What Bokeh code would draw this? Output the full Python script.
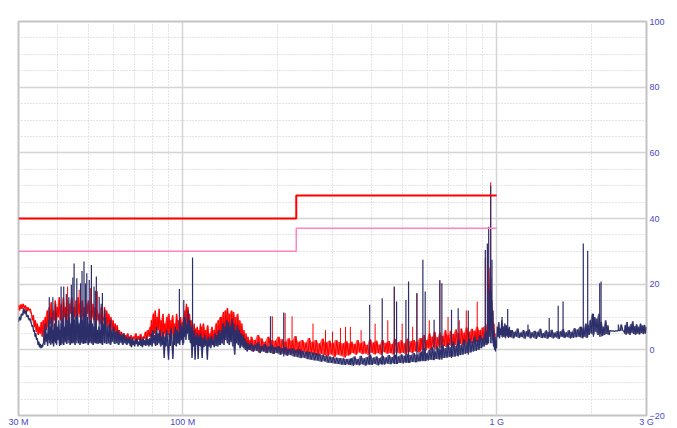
import numpy as np
from bokeh.plotting import figure
from bokeh.models import FixedTicker, Grid
from bokeh.embed import file_html
from bokeh.resources import INLINE

# ---------------- data (frequency in MHz, level in dB) ----------------
x_ticks = [30, 100, 1000, 3000]
x_tick_labels = {30: "30 M", 100: "100 M", 1000: "1 G", 3000: "3 G"}
x_minor = [40, 50, 60, 70, 80, 90, 200, 300, 400, 500, 600, 700, 800, 900, 2000]
x_major = [100, 1000]
y_ticks = [-20, 0, 20, 40, 60, 80, 100]
y_minor = [-15, -10, -5, 5, 10, 15, 25, 30, 35, 45, 50, 55, 65, 70, 75, 85, 90, 95]

# limit lines
limit_f = [30, 230, 230, 1000]
limit_a = [40, 40, 47, 47]
limit_b = [30, 30, 37, 37]

navy_edges = [30, 33, 36, 40.8, 54.8, 68, 79, 98, 114, 132, 164, 342, 572, 940,
              1000, 1110, 1850, 2300, 2550, 3000]
navy_s1 = [8.5, 10, 9, 11, 10.5, 12.7, 11, 12, 10, 10.5, 9, 9.5, 8]
navy_s2 = [8, 7, 7.5, 5.5, 6, 4, 5, 3, 3.5, 1.5, 2.5, 0.8, 1.8, 0.5, 1.5, 0.8, 2]
navy_s3 = [2, 6, 1.5, 8, 2.5, 5, 1.2, 9, 3, 7, 1.5, 10, 2, 6, 1, 8, 2.5, 11, 1.5, 7,
           3, 9, 1.2, 6]
navy_s4 = [1.5, 8, 2, 10, 1.5, 7, 2.5, 11, 1.8, 9, 3, 10, 1.5, 8, 2, 12, 2.5, 9, 1.5,
           10, 3, 11, 2, 8, 1.5, 10, 2.5, 9, 1.8, 11, 2, 7, 3, 10, 1.5, 8, 2.5, 9, 2,
           8, 1.5, 7, 2.5, 9, 2, 6, 1.8, 7, 2.2, 6]
navy_s5 = [2, 9, 1.5, 8, 2.5, 10, 1.8, 7, 2, 8, 1.5, 6, 2.5, 7, 1.8, 5.5, 2, 6, 1.5,
           5, 2.2, 4.5, 1.5, 5, 2, 4, 1.5, 3.5, 2, 4]
navy_s6 = [1.2, 3, 0.8, 3.5, 1.5, 2.8, 1, 3.2, 1.8, 3.5, 1, 2.5, 1.5, 3.8, 1.2, 3,
           0.8, 3.5, 1.5, 3, 1.2, 4, 1.5, 3.2, 1, 3.6, 1.5]
navy_s7 = [1.5, 5, 1, 6, 2, 4.5, 1.2, 7, 1.5, 5, 2, 6, 1, 4, 1.5, 5.5, -2.5, 4, 1, 6,
           1.5, -3, 5, 1.2, 6.5, 2, -2.8, 5, 1.5, 7, 1, 6, 2, 5.5, 1.5]
navy_s8 = [2, 8, 3, 7, 1.5, 9, 4, 10, 3, 8, 5, 12, 3, 9, 2, 7, -2.5, 5, 1, 6, -3, 4,
           1.5, 5, -2.8, 4, 1.2, 5]
navy_s9 = [1, 4, -2.5, 3.5, 0.8, 4.5, 1.2, 3, -3, 4, 1, 3.5, 0.5, 4.2, 1.5, 3, 0.8,
           5, 1.2, 4.5, 1, 6, 1.5, 5]
navy_s10 = [1.5, 6, 2, 8, 1.5, 7, 3, 9, 2, 8.5, 1.5, 7, 2.5, 9.5, 1, 8, -1.5, 6, 2,
            7.5, 1.5, 6, 0.5, 5, 1, 4.5, 0.5, 3.5, 0, 2.5, -0.5, 2, 0, 1.5]
navy_s11 = [0, 2, -0.5, 1.5, -0.3, 2.2, -0.8, 1.2, -0.5, 1.8, -1, 1, -0.8, 1.5, -1.2,
            0.8, -1, 1.2, -1.5, 0.5, -1.3, 0.8, -1.8, 0.3, -1.6, 0.5, -2, 0, -2.2,
            0.2, -2.5, -0.3, -2.4, -0.5, -2.8, -0.6, -3, -0.8, -3.2, -1, -3.3, -1.2,
            -3.6, -1.5, -3.5, -1.8, -3.9, -2, -4, -2.2, -4.2, -2.4, -4.3, -2.5, -4.5,
            -2.6, -4.6, -2.8, -4.5, -2.7]
navy_s12 = [-4.6, -2.5, -4.8, -2, -4.5, -2.8, -4.7, -1.8, -4.4, -2.6, -4.8, -2.2,
            -4.5, -1.5, -4.6, -2.4, -4.3, -2, -4.7, -2.5, -4.4, -1.8, -4.5, -2.3,
            -4.2, -1.6, -4.4, -2.2, -4.1, -1.5, -4.3, -2, -4, -1.4, -4.1, -1.8, -3.8,
            -1.2, -4, -1.6, -3.7, -1, -3.8, -1.5, -3.5, -0.8]
navy_s13 = [-3.5, -0.5, -3.3, 0.5, -3.4, -1, -3.2, 0, -3, 0.8, -3.1, -0.5, -2.8, 1,
            -2.9, 0, -2.6, 1.5, -2.5, 0.5, -2.4, 2, -2.2, 0.8, -2, 2.5, -2.1, 1.2,
            -1.8, 3, -1.6, 1.5, -1.5, 3.2, -1.2, 2, -1, 3.5, -0.8, 2.5, -0.5, 4, -0.3,
            3, 0, 4.5, 0.5, 3.5, 1, 5, 1.5, 6]
navy_s14 = [2, 10, 4, 18, 6, 22, 8, 15, 3, 12, 1, 6, 0, 4, -0.5, 3, 0.5]
navy_s15 = [3, 7, 4, 8.5, 3.5, 6.5, 4.5, 9, 3.8, 7, 4, 8, 3.5, 7.5, 4.2, 6.5, 3.6, 7,
            4, 6]
navy_s16 = [3.8, 6, 3.5, 5.5, 4, 6.5, 3.6, 5.2, 3.9, 6, 3.4, 5.6, 4.1, 6.2, 3.5, 5.3,
            3.8, 5.8, 3.3, 5.5, 4, 6.4, 3.6, 5.1, 3.7, 5.9, 3.4, 5.4, 3.9, 6.1, 3.5,
            5.2, 3.8, 5.7, 3.3, 5.6, 4, 6.3, 3.6, 5.3, 3.9, 6, 3.5, 5.5, 3.7, 6.6, 3.8,
            6.2, 4, 7]
navy_s17 = [3.8, 7, 3.5, 6.5, 4, 8, 3.6, 7.5, 4.5, 9, 5, 11, 4.5, 10, 5.5, 9.5, 4.5,
            11, 5, 8.5, 4.2, 7, 4.5, 9, 4.8, 7.5, 4.5, 6]
navy_s18 = [5.9, 5.7, 5.8, 5.6, 5.8, 5.7, 5.9, 5.8, 7.7, 5.8, 5.7]
navy_s19 = [5, 7.5, 4.6, 8.5, 5, 7, 4.5, 7.8, 5.2, 8.7, 4.8, 7.2, 4.6, 7.8, 5, 7, 4.7,
            8, 5.1, 7.4, 4.8, 7.6, 5, 7]
navy_levels = [navy_s1, navy_s2, navy_s3, navy_s4, navy_s5, navy_s6, navy_s7,
               navy_s8, navy_s9, navy_s10, navy_s11, navy_s12, navy_s13, navy_s14,
               navy_s15, navy_s16, navy_s17, navy_s18, navy_s19]

navy_spike_f = [37.6, 38.6, 39.4, 41.0, 41.8, 42.6, 43.4, 44.2, 44.7, 45.1, 46.0,
                47.3, 47.8, 48.5, 49.0, 49.5, 50.4, 51.2, 52.2, 52.7, 53.1, 54.2,
                55.0, 55.5, 56.4, 58.9, 97.6, 100.8, 107.5, 190.4, 209.8, 394, 432,
                472, 480, 514, 524, 557, 582, 592, 632, 659, 669, 718, 754, 812, 920,
                934, 943, 957, 966, 1040, 1084, 1258, 1470, 1570, 1627, 1887, 1949,
                2033, 2129, 2150, 2440]
navy_spike_top = [16, 16, 14, 19.3, 19.3, 17, 16, 19.8, 22, 26.3, 21.8, 20.3, 24,
                  26.9, 20, 23.3, 21.3, 25.8, 19.3, 18, 22.3, 16.2, 14, 17.3, 12.2,
                  9.2, 18.5, 15.2, 28.1, 10.2, 11.4, 13.7, 15.7, 19.3, 14.7, 15.2,
                  20.8, 17.3, 27.4, 17.8, 9.2, 21.3, 20.3, 12.2, 12.7, 12, 30.4, 32.4,
                  37.5, 50, 27.4, 10, 12.4, 7.7, 9.7, 13.4, 14.7, 32.4, 30.2, 11,
                  20.3, 20.8, 7.7]
navy_spike_base = [2, 2, 2, 1.5, 1.5, 2, 2, 2, 2, 2, 2, 2, 2, 2, 2, 2, 2, 2, 2, 2,
                   2, 2, 2, 2, 2, 2, 2, 2, 3, -1, -2, -4.5, -4.5, -4.3, -4.3, -4, -4,
                   -3.8, -3.5, -3.5, -3.2, -3, -3, -2.5, -2, -1.5, 2, 2, 2, 2, 2, 4,
                   4, 4, 4, 4, 4, 4, 4, 4, 4, 4, 5.8]

# measured trace 2 (red)
red_edges = [30, 33, 40.8, 56, 68, 79, 100, 114, 132, 164, 342, 572, 940, 990]
red_s1 = [13.5, 12, 13.8, 12.5, 14, 12.8, 13.5, 11.5, 13, 12, 12.5, 11]
red_s2 = [11, 9, 10.5, 7, 9, 5.5, 8, 4.5, 7, 5, 8.5, 4, 9, 5.5, 10, 6, 12, 7, 13, 8,
          14.5, 7, 12, 9, 15, 8, 13, 10, 16, 9]
red_s3 = [9, 14, 8, 16, 10, 13, 7, 15, 9, 14, 11, 16, 8, 13, 10, 15, 9, 16, 11, 14,
          8, 15, 10, 13, 9, 14, 11, 15, 8, 12, 10, 14, 9, 13, 7, 12, 9, 11, 8, 13, 7,
          10]
red_s4 = [9, 13, 8, 12, 7, 11, 6.5, 10, 6, 9, 5, 8, 4.5, 7.5, 4, 6, 3.5, 5.5, 3, 5,
          3.5, 4.5, 3, 5, 2.5, 4]
red_s5 = [3, 4.5, 2.5, 4, 3.2, 5, 2.8, 4.2, 3, 4.8, 2.6, 4, 3.5, 5.5, 3, 6, 4, 7]
red_s6 = [4, 9, 3, 11, 5, 12, 4, 10, 6, 12.5, 4, 9, 3.5, 11, 5, 8, 3, 10, 4.5, 11,
          3.5, 9, 5, 10.5, 3, 8, 4, 11, 5, 9, 3.5, 10, 4, 8.5]
red_s7 = [5, 10, 6, 12, 7, 14, 8, 13, 6, 11, 4, 9, 3, 7, 2, 8, 3, 6.5, 1.5, 7, 2.5, 6,
          2, 8]
red_s8 = [2, 7, 1.5, 8, 3, 6, 1.5, 7.5, 2, 5, 2.5, 7, 1.5, 6, 3, 8, 2, 9, 3.5, 10]
red_s9 = [3, 10, 4, 11.5, 3.5, 12, 5, 12.7, 4, 11, 3, 12, 5, 11.5, 4, 10, 3, 11, 2.5,
          9, 2, 8, 1.5, 6, 1, 5, 0.5, 4, 1, 3]
red_s10 = [0, 4, -0.5, 3, 0.5, 4.5, -1, 3.5, 0, 2.5, -0.8, 4, 0.3, 3, -1.2, 2.8, 0, 4,
           -1, 3.2, -0.5, 2.5, -1.5, 3.5, -0.8, 2.8, -1.2, 4.2, -1, 2.5, -1.6, 3,
           -0.5, 2.2, -1.8, 3.6, -1, 2.4, -1.5, 3, -1.9, 2, -1.2, 3.4, -1.6, 2.2, -2,
           2.8, -1.4, 2, -2.2, 3, -1.5, 2.4, -1.8, 2, -2.3, 2.6, -1.7, 2]
red_s11 = [-1.4, 2.5, -1, 1.8, -1.5, 3, -0.8, 2, -1.3, 2.6, -1.1, 1.5, -1.6, 3.2,
           -0.9, 2.2, -1.4, 2.8, -1, 1.6, -1.5, 3, -0.7, 2.1, -1.2, 2.7, -1, 1.8,
           -1.4, 3.3, -0.8, 2.3, -1.1, 2.9, -0.9, 2, -1.3, 3.4, -0.6, 2.6, -1, 3,
           -0.5, 2.4, -0.8, 3.5]
red_s12 = [-0.5, 3.5, 0, 4.5, -0.3, 3, 0.5, 5, 0, 4, 0.8, 5.5, 0.2, 3.8, 1, 5.2, 0.5,
           4.2, 1.2, 6, 0.8, 4.5, 1.5, 5.8, 1, 4.8, 1.5, 6.2, 1.2, 5, 1.8, 6.5, 1.5,
           5.2, 2, 6.8, 1.8, 5.5, 2.2, 6.4, 2, 5.8, 2.5, 7, 2.2, 6, 2.8, 6.8, 3, 7.2,
           3.5, 8]
red_s13 = [10, 20, 12, 25, 8, 18, 5, 12, 3, 8, 2, 5]
red_levels = [red_s1, red_s2, red_s3, red_s4, red_s5, red_s6, red_s7, red_s8, red_s9,
              red_s10, red_s11, red_s12, red_s13]

red_spike_f = [43.0, 46.8, 49.1, 50.9, 53.5, 193, 212, 223, 260, 285, 300, 318, 330,
               342, 370, 410, 450, 472, 500, 524, 540, 557, 610, 659, 700, 760, 800,
               867, 920, 936, 957]
red_spike_top = [19.3, 18.3, 20.3, 18.8, 17.8, 10.2, 11.2, 10.2, 8, 6, 5.5, 6.7, 7,
                 7, 6, 8, 9, 19, 8, 17.3, 7, 17, 9, 20.8, 10, 9, 12, 14.7, 28, 31,
                 51]
red_spike_base = [10, 10, 10, 10, 10, 1, 1, 1, 0, 0, 0, 0, 0, 0, 0, 0, 0.5, 0.5,
                  0.5, 0.5, 1, 1, 1, 1.5, 1.5, 2, 2, 3, 4, 4, 4]

NAVY = "#2c2e6a"
RED = "#ff0000"
PINK = "#ff84c0"
BLUE_TXT = "#4a4ac8"


def sweep(edges, levels):
    fs, vs = [], []
    for i, lv in enumerate(levels):
        fs.append(np.geomspace(edges[i], edges[i + 1], len(lv)))
        vs.append(np.asarray(lv, dtype=float))
    return np.concatenate(fs), np.concatenate(vs)


navy_f, navy_v = sweep(navy_edges, navy_levels)
red_f, red_v = sweep(red_edges, red_levels)

p = figure(x_axis_type="log", x_range=(30, 3000), y_range=(-20, 100),
           frame_width=628, frame_height=394, output_backend="svg",
           toolbar_location=None, y_axis_location="right",
           min_border_left=18, min_border_top=21, min_border_bottom=0,
           min_border_right=0)
p.background_fill_color = "white"
p.border_fill_color = "white"
p.outline_line_color = "#c4c4c4"
p.outline_line_width = 2

# grids
p.xgrid.visible = False
p.ygrid.visible = False
p.add_layout(Grid(dimension=0, ticker=FixedTicker(ticks=x_minor),
                  grid_line_color="#c8c8c8", grid_line_dash="1 2"))
p.add_layout(Grid(dimension=0, ticker=FixedTicker(ticks=x_major),
                  grid_line_color="#d4d4d4", grid_line_width=1.5))
p.add_layout(Grid(dimension=1, ticker=FixedTicker(ticks=y_minor),
                  grid_line_color="#c8c8c8", grid_line_dash="1 2"))
p.add_layout(Grid(dimension=1, ticker=FixedTicker(ticks=y_ticks),
                  grid_line_color="#d4d4d4", grid_line_width=1.5))

# axes
xa = p.xaxis[0]
xa.ticker = FixedTicker(ticks=x_ticks)
xa.major_label_overrides = x_tick_labels
ya = p.yaxis[0]
ya.ticker = FixedTicker(ticks=y_ticks)
ya.major_label_text_baseline = "bottom"
for ax in (xa, ya):
    ax.axis_line_color = None
    ax.major_tick_line_color = None
    ax.minor_tick_line_color = None
    ax.major_tick_out = 0
    ax.major_tick_in = 0
    ax.major_label_standoff = 1
    ax.major_label_text_color = BLUE_TXT
    ax.major_label_text_font = "Liberation Sans"
    ax.major_label_text_font_size = "9px"
ya.major_label_standoff = 3

# traces: a fill of each sweep's min/max band, then the sweep itself
red_lo = np.minimum(red_v[:-1], red_v[1:])
red_hi = np.maximum(red_v[:-1], red_v[1:])
navy_lo = np.minimum(navy_v[:-1], navy_v[1:])
navy_hi = np.maximum(navy_v[:-1], navy_v[1:])

p.varea(x=red_f[:-1], y1=red_lo, y2=red_hi, fill_color=RED, fill_alpha=0.7)
p.line(red_f, red_v, line_color=RED, line_width=1.1)
p.segment(x0=red_spike_f, y0=red_spike_base, x1=red_spike_f, y1=red_spike_top,
          line_color=RED, line_width=1)
p.varea(x=navy_f[:-1], y1=navy_lo, y2=navy_hi, fill_color=NAVY, fill_alpha=0.7)
p.line(navy_f, navy_v, line_color=NAVY, line_width=1.1)
p.segment(x0=navy_spike_f, y0=navy_spike_base, x1=navy_spike_f, y1=navy_spike_top,
          line_color=NAVY, line_width=1.2)

# limits
p.line(limit_f, limit_b, line_color=PINK, line_width=1.5)
p.line(limit_f, limit_a, line_color=RED, line_width=2)

open("out.html", "w").write(file_html(p, INLINE))
